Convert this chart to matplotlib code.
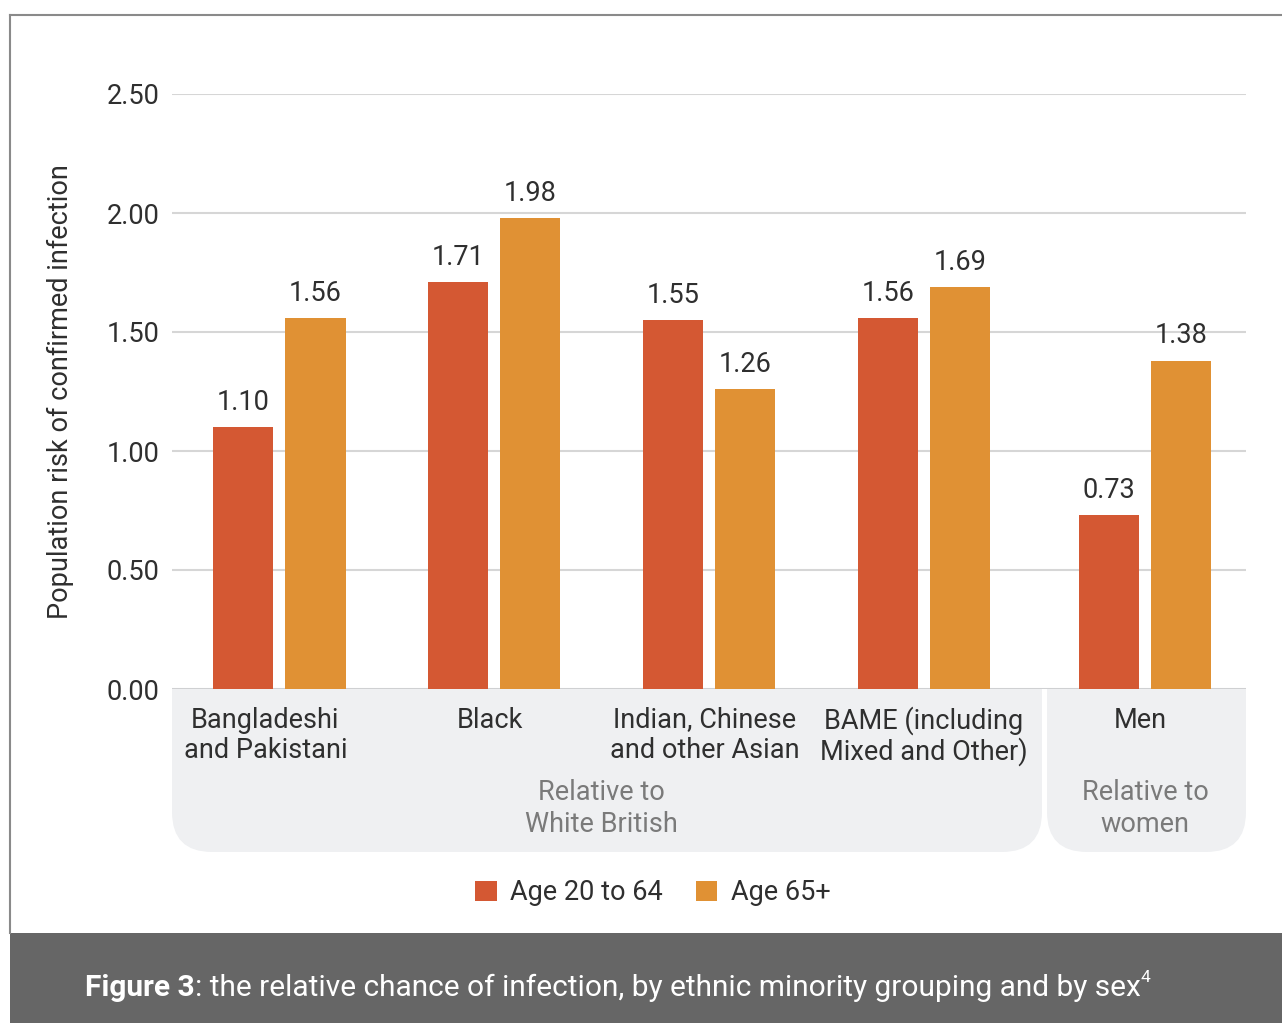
import numpy as np
import matplotlib
matplotlib.use("Agg")
import matplotlib.pyplot as plt
from matplotlib.patches import Rectangle, FancyBboxPatch
from matplotlib.transforms import blended_transform_factory

plt.rcParams['font.family'] = ['Roboto', 'DejaVu Sans']

# relative risk of confirmed infection
groups = ["Bangladeshi\nand Pakistani", "Black", "Indian, Chinese\nand other Asian",
          "BAME (including\nMixed and Other)", "Men"]
age_20_64 = [1.10, 1.71, 1.55, 1.56, 0.73]
age_65 = [1.56, 1.98, 1.26, 1.69, 1.38]
series_names = ["Age 20 to 64", "Age 65+"]
yticks = [0.0, 0.5, 1.0, 1.5, 2.0, 2.5]

RED = '#D45833'
ORANGE = '#E09134'
TXT = '#2f2f2f'
GREYTXT = '#7a7a7a'
PANEL = '#EFF0F2'
FS = 19.5

W, H = 1282, 1023
fig = plt.figure(figsize=(W / 100, H / 100), dpi=100)

# background layer in pixel coordinates
bg = fig.add_axes([0, 0, 1, 1], zorder=0)
bg.set_xlim(0, W)
bg.set_ylim(H, 0)
bg.axis('off')

# frame and footer
bg.plot([10, 10], [15, 933], color='#8a8a8a', lw=1.5)
bg.plot([10, W], [15, 15], color='#8a8a8a', lw=1.5)
bg.add_patch(Rectangle((10, 933), W - 10, 90, color='#666666', lw=0))

# grey panels under the category labels (rounded bottom corners only)
def panel(x0, x1, y0=689, y1=852, r=40):
    bg.add_patch(FancyBboxPatch((x0 + r, y0 + r), x1 - x0 - 2 * r, y1 - y0 - 2 * r,
                                boxstyle="round,pad=%d" % r, fc=PANEL, ec='none'))
    bg.add_patch(Rectangle((x0, y0), x1 - x0, r + 2, fc=PANEL, ec='none'))

panel(172, 1042)
panel(1047, 1246)

# main chart
ax = fig.add_axes([172 / W, 1 - 689 / H, (1246 - 172) / W, (689 - 94) / H], zorder=1)
ax.set_facecolor('none')

pos = np.arange(len(groups), dtype=float)
pos[-1] += 0.03
bw = 0.28
off = 0.168

b1 = ax.bar(pos - off, age_20_64, bw, color=RED, zorder=3, label=series_names[0])
b2 = ax.bar(pos + off, age_65, bw, color=ORANGE, zorder=3, label=series_names[1])

for bars, vals in [(b1, age_20_64), (b2, age_65)]:
    for rect, v in zip(bars, vals):
        ax.annotate("%.2f" % v, (rect.get_x() + rect.get_width() / 2, v),
                    xytext=(0, 8), textcoords='offset points',
                    ha='center', va='bottom', fontsize=FS, color=TXT)

ax.set_xlim(-0.5, 4.5)
ax.set_ylim(0, 2.5)
ax.set_yticks(yticks)
ax.set_yticklabels(["%.2f" % t for t in yticks])
ax.tick_params(axis='y', length=0, pad=9, labelsize=FS, labelcolor=TXT)
ax.set_xticks([])
for s in ax.spines.values():
    s.set_visible(False)
ax.grid(axis='y', color='#d6d6d6', lw=1.5, zorder=0)
ax.axhline(0, color='#cfd0d2', lw=2, zorder=2)

# category labels under the bars, one text per line
tr = blended_transform_factory(ax.transData, bg.transData)
nudge = [-0.065, -0.02, -0.02, 0, -0.02]
for p, g, dx in zip(pos, groups, nudge):
    for i, line in enumerate(g.split("\n")):
        ax.text(p + dx, 717 + 31 * i, line, transform=tr, ha='center', va='center_baseline',
                fontsize=FS, color=TXT)
for i, line in enumerate(["Relative to", "White British"]):
    ax.text(pos[:4].mean(), 790 + 32 * i, line, transform=tr, ha='center',
            va='center_baseline', fontsize=FS, color=GREYTXT)
for i, line in enumerate(["Relative to", "women"]):
    ax.text(pos[4], 790 + 32 * i, line, transform=tr, ha='center',
            va='center_baseline', fontsize=FS, color=GREYTXT)

fig.text(60 / W, 1 - 392 / H, "Population risk of confirmed infection", rotation=90,
         ha='center', va='center', fontsize=19.5, color=TXT)

fig.legend(handles=[b1, b2], loc='center', bbox_to_anchor=(653 / W, 1 - 893 / H),
           ncol=2, frameon=False, fontsize=FS, handlelength=0.8, handleheight=0.8,
           handletextpad=0.5, columnspacing=1.2, labelcolor=TXT)

# caption in the footer
r = fig.canvas.get_renderer()
t1 = bg.text(85, 985, "Figure 3", fontsize=21.5, fontweight='bold', color='white',
             va='center_baseline', ha='left')
x = t1.get_window_extent(r).x1
t2 = fig.text(x / W, 1 - 985 / H, ": the relative chance of infection, by ethnic minority grouping and by sex",
              fontsize=21.5, color='white', va='center_baseline', ha='left')
x = t2.get_window_extent(r).x1
fig.text(x / W, 1 - 976 / H, "4", fontsize=12.5, color='white', va='center_baseline', ha='left')

fig.savefig("out.png", dpi=100)
